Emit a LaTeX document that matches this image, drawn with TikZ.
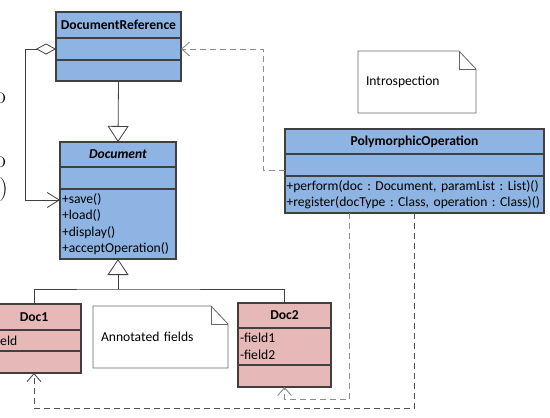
\documentclass[tikz,border=0pt]{standalone}
\usepackage{fontspec}
\newfontfamily\calibri{Carlito}
\usepackage{xcolor}
\usetikzlibrary{positioning,arrows.meta}
\definecolor{umlblue}{HTML}{8DB4E2}
\definecolor{umlpink}{HTML}{E6B9B8}
\definecolor{umlline}{HTML}{404040}
\definecolor{noteline}{HTML}{666666}
\definecolor{depline}{HTML}{8C8C8C}
\definecolor{depdark}{HTML}{505050}
\newcommand\umlfont{\calibri\frenchspacing\fontsize{13.6}{16.5}\selectfont}
\tikzset{
 cls/.style={draw=umlline,line width=1.1pt,fill=umlblue,inner sep=0pt,outer sep=0pt,minimum width=#1,font=\umlfont},
 clshead/.style={cls=#1,font=\umlfont\bfseries},
 members/.style 2 args={cls=#1,text width=#2,align=left},
 sub/.style={fill=umlpink},
 note/.style={inner xsep=8pt,inner ysep=0pt,outer sep=0pt,align=left,font=\umlfont},
 assoc/.style={draw=umlline,line width=0.8pt},
 gen/.style={assoc,-{Triangle[open,length=16pt,width=21pt]}},
 aggr/.style={assoc,{Diamond[open,length=20pt,width=11pt]}-{Straight Barb[length=12pt,width=15pt]}},
 dep/.style={draw=depline,line width=0.9pt,dash pattern=on 6pt off 4pt,-{Straight Barb[length=8pt,width=14pt]}},
 remnant/.style={anchor=east,inner sep=0pt,font=\fontsize{24}{28}\selectfont}
}
\begin{document}
\begin{tikzpicture}[x=1pt,y=-1pt]
 \useasboundingbox (0,0) rectangle (550,418);
 \clip (0,0) rectangle (550,418);
 \node[remnant] (glyphA) at (6,98) {o};
 \node[remnant] (glyphB) at (6,162) {o};
 \node[remnant] (glyphC) at (8,190) {)};

 \node[clshead=125pt,minimum height=26pt] (refhead) at (118.5,25) {DocumentReference};
 \node[cls=125pt,minimum height=22pt,below=0pt of refhead] (refattr) {};
 \node[cls=125pt,minimum height=21pt,below=0pt of refattr] (refops) {};

 \node[clshead=116pt,minimum height=25pt,font=\umlfont\bfseries\itshape] (dochead) at (118,154.5) {Document};
 \node[cls=116pt,minimum height=22pt,below=0pt of dochead] (docattr) {};
 \node[members={116pt}{112pt},minimum height=70pt,below=0pt of docattr] (docops) {+save()\\+load()\\+display()\\+acceptOperation()};

 \node[clshead=259pt,minimum height=25pt] (polyhead) at (414.5,141.5) {PolymorphicOperation};
 \node[cls=259pt,minimum height=22pt,below=0pt of polyhead] (polyattr) {};
 \node[members={259pt}{256pt},minimum height=37pt,below=0pt of polyattr] (polyops) {+perform(doc : Document, paramList : List)()\\+register(docType : Class, operation : Class)()};

 \node[clshead=94pt,sub,minimum height=26pt] (d1head) at (34,317) {Doc1};
 \node[members={94pt}{90pt},sub,minimum height=21pt,below=0pt of d1head] (d1attr) {-field};
 \node[cls=94pt,sub,minimum height=22pt,below=0pt of d1attr] (d1ops) {};

 \node[clshead=93pt,sub,minimum height=25pt] (d2head) at (284.5,315.5) {Doc2};
 \node[members={93pt}{89pt},sub,minimum height=37pt,below=0pt of d2head] (d2attr) {-field1\\-field2};
 \node[cls=93pt,sub,minimum height=22pt,below=0pt of d2attr] (d2ops) {};

 \node[note,text width=102pt,minimum width=118pt,minimum height=62pt] (intro) at (417,82) {Introspection};
 \node[note,text width=119pt,minimum width=135pt,minimum height=62pt] (annot) at (160.5,337) {Annotated fields};
 \foreach \n in {intro,annot}{
  \draw[noteline,line width=0.8pt] (\n.south west) -- (\n.north west) -- ([xshift=-17pt]\n.north east) -- ([yshift=-18pt]\n.north east) -- (\n.south east) -- cycle;
  \draw[noteline,line width=0.8pt] ([xshift=-17pt]\n.north east) |- ([yshift=-18pt]\n.north east);
 }

 \coordinate (saveIn) at ([yshift=-11pt]docops.north west);
 \coordinate (fork) at ([yshift=-30pt]docops.south);
 \draw[aggr] (refattr.west) -- ++(-31,0) |- (saveIn);
 \draw[gen] (refops.south) -- (dochead.north);
 \draw[gen] (fork) -- (docops.south);
 \draw[assoc] (d1head.north) |- (fork) -| (d2head.north);
 \draw[dep] ([yshift=-5pt]polyattr.west) -- ++(-22,0) |- (refattr.east);
 \draw[dep] ([xshift=-65pt]polyops.south) |- ([yshift=-12pt]d2ops.south) -- (d2ops.south);
 \draw[dep,draw=depdark] (polyops.south) |- ([yshift=-35pt]d1ops.south) -- (d1ops.south);
\end{tikzpicture}
\end{document}
